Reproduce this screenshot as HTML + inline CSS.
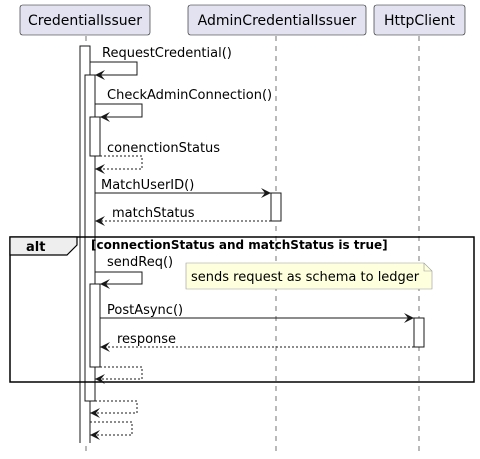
<!DOCTYPE html>
<html><head><meta charset="utf-8"><style>
html,body{margin:0;padding:0;background:#fff;}
svg{display:block;font-family:"DejaVu Sans","Liberation Sans",sans-serif;}
</style></head><body>
<svg width="480" height="459" viewBox="0 0 480 459" xmlns="http://www.w3.org/2000/svg">
<defs>
<marker id="ah" viewBox="0 0 10 10" refX="10" refY="5" markerWidth="10" markerHeight="10" markerUnits="userSpaceOnUse" orient="auto">
<path d="M0,0 L10,5 L0,10 L4,5 Z" fill="#181818"/>
</marker>
</defs>
<g stroke="#181818" stroke-width="0.6" stroke-dasharray="5,5">
<line x1="86" y1="36" x2="86" y2="453"/>
<line x1="276" y1="36" x2="276" y2="453"/>
<line x1="419" y1="36" x2="419" y2="453"/>
</g>
<g fill="#E2E2F0" stroke="#181818" stroke-width="0.6">
<rect x="20" y="5" width="130" height="30" rx="2.5"/>
<rect x="188" y="5" width="178" height="30" rx="2.5"/>
<rect x="374" y="5" width="91" height="30" rx="2.5"/>
</g>
<g font-size="14" fill="#000">
<text x="85" y="25" text-anchor="middle">CredentialIssuer</text>
<text x="277" y="25" text-anchor="middle">AdminCredentialIssuer</text>
<text x="419.5" y="25" text-anchor="middle">HttpClient</text>
</g>
<g fill="#fff" stroke="#181818" stroke-width="1">
<path d="M80,443 V46 H90 V443"/>
<rect x="85" y="75" width="10" height="326"/>
<rect x="90" y="117" width="10" height="39"/>
<rect x="271" y="193" width="10" height="28"/>
<rect x="90" y="284" width="10" height="83"/>
<rect x="414" y="318" width="10" height="29"/>
</g>
<rect x="10" y="237" width="464" height="145" fill="none" stroke="#000" stroke-width="1.5"/>
<path d="M10,237 H77 V245 L67,255 H10 Z" fill="#EEEEEE" stroke="#000" stroke-width="1.2"/>
<text x="26" y="251" font-size="13" font-weight="bold">alt</text>
<text x="91" y="249" font-size="12" font-weight="bold">[connectionStatus and matchStatus is true]</text>
<path d="M186,263 H424 L432,271 V289 H186 Z" fill="#FEFFDD" stroke="#999" stroke-width="0.6"/>
<path d="M424,263 V271 H432" fill="none" stroke="#999" stroke-width="0.6"/>
<text x="191" y="281" font-size="13">sends request as schema to ledger</text>
<g stroke="#181818" stroke-width="1" fill="none">
<path d="M90,62 H137 V75 H95" marker-end="url(#ah)"/>
<path d="M95,104 H142 V117 H100" marker-end="url(#ah)"/>
<path d="M100,156 H142 V169 H95" stroke-dasharray="2,2" marker-end="url(#ah)"/>
<path d="M95,193 H271" marker-end="url(#ah)"/>
<path d="M271,221 H95" stroke-dasharray="2,2" marker-end="url(#ah)"/>
<path d="M95,272 H142 V284 H100" marker-end="url(#ah)"/>
<path d="M100,318 H414" marker-end="url(#ah)"/>
<path d="M414,347 H100" stroke-dasharray="2,2" marker-end="url(#ah)"/>
<path d="M100,367 H142 V379 H95" stroke-dasharray="2,2" marker-end="url(#ah)"/>
<path d="M95,401 H137 V413 H90" stroke-dasharray="2,2" marker-end="url(#ah)"/>
<path d="M90,422 H132 V435 H90" stroke-dasharray="2,2" marker-end="url(#ah)"/>
</g>
<g font-size="13" fill="#000">
<text x="102" y="57">RequestCredential()</text>
<text x="107" y="99">CheckAdminConnection()</text>
<text x="107" y="152">conenctionStatus</text>
<text x="101" y="189">MatchUserID()</text>
<text x="112" y="217">matchStatus</text>
<text x="107" y="266">sendReq()</text>
<text x="107" y="314">PostAsync()</text>
<text x="117" y="343">response</text>
</g>
</svg>
</body></html>
